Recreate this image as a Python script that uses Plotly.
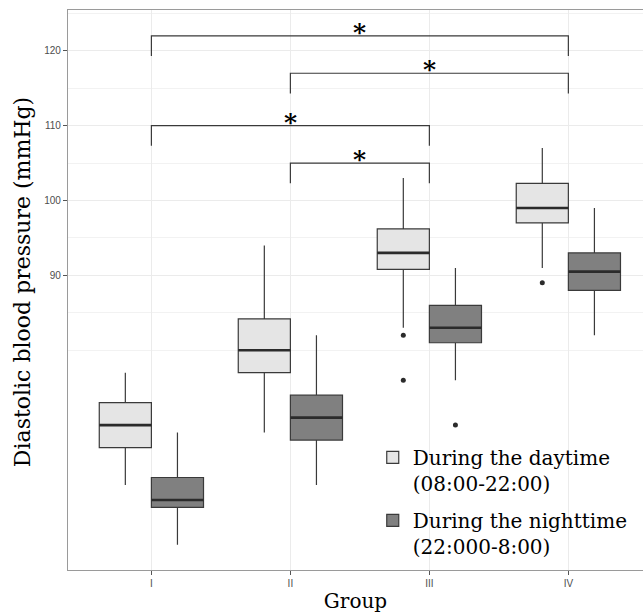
import plotly.graph_objects as go

# Groups on the x axis
groups = ["I", "II", "III", "IV"]
group_pos = [1, 2, 3, 4]

# Daytime (08:00-22:00) box statistics, mmHg
day_low = [62, 69, 83, 91]
day_q1 = [67, 77, 90.8, 97]
day_med = [70, 80, 93, 99]
day_q3 = [73, 84.2, 96.2, 102.3]
day_high = [77, 94, 103, 107]
day_out_group = [3, 3, 4]
day_out_val = [82, 76, 89]

# Nighttime (22:00-08:00) box statistics, mmHg
night_low = [54, 62, 76, 82]
night_q1 = [59, 68, 81, 88]
night_med = [60, 71, 83, 90.5]
night_q3 = [63, 74, 86, 93]
night_high = [69, 82, 91, 99]
night_out_group = [3]
night_out_val = [70]

# Significance brackets: (from group, to group, height)
brackets = [(1, 4, 122), (2, 4, 117), (1, 3, 110), (2, 3, 105)]
bracket_tip = 2.7
bracket_label = "*"

DODGE = 0.1875
BOX_W = 0.375
LINE_C = "#3a3a3a"
SERIF = "DejaVu Serif"

fig = go.Figure()


def add_series(name, offset, low, q1, med, q3, high, fill, out_g, out_v):
    xs = [p + offset for p in group_pos]
    fig.add_trace(go.Box(
        name=name, x=xs, q1=q1, median=med, q3=q3,
        lowerfence=low, upperfence=high, width=BOX_W,
        fillcolor=fill, line=dict(color=LINE_C, width=1.2),
        whiskerwidth=0, boxpoints=False, hoverinfo="skip",
        legendgroup=name,
    ))
    # thicker median bars
    mx, my = [], []
    for x, m in zip(xs, med):
        mx += [x - BOX_W / 2, x + BOX_W / 2, None]
        my += [m, m, None]
    fig.add_trace(go.Scatter(x=mx, y=my, mode="lines",
                             line=dict(color="#2b2b2b", width=2.6),
                             showlegend=False, hoverinfo="skip"))
    # outliers
    fig.add_trace(go.Scatter(x=[g + offset for g in out_g], y=out_v, mode="markers",
                             marker=dict(color="#2b2b2b", size=5),
                             showlegend=False, hoverinfo="skip"))


add_series("During the daytime<br>(08:00-22:00)", -DODGE, day_low, day_q1, day_med,
           day_q3, day_high, "#E5E5E5", day_out_group, day_out_val)
add_series("During the nighttime<br>(22:000-8:00)", DODGE, night_low, night_q1, night_med,
           night_q3, night_high, "#808080", night_out_group, night_out_val)

for a, b, h in brackets:
    fig.add_trace(go.Scatter(
        x=[a, a, b, b], y=[h - bracket_tip, h, h, h - bracket_tip], mode="lines",
        line=dict(color=LINE_C, width=1.2), showlegend=False, hoverinfo="skip"))
    fig.add_annotation(x=(a + b) / 2, y=h, text="<b>" + bracket_label + "</b>",
                       showarrow=False, yanchor="bottom", yshift=-13,
                       font=dict(family=SERIF, size=25, color="black"))

# y-axis title
fig.add_annotation(xref="paper", yref="paper", x=-0.08, y=0.514,
                   text="Diastolic blood pressure (mmHg)", textangle=-90,
                   showarrow=False, xanchor="center", yanchor="middle",
                   font=dict(family=SERIF, size=22, color="black"))

fig.update_layout(
    width=643, height=613,
    margin=dict(l=68, r=0, t=10, b=43),
    plot_bgcolor="white", paper_bgcolor="white",
    showlegend=True,
    legend=dict(x=0.53, y=0.236, xanchor="left", yanchor="top",
                font=dict(family=SERIF, size=20, color="black"),
                bgcolor="rgba(0,0,0,0)", valign="top",
                traceorder="grouped", tracegroupgap=8),
    xaxis=dict(
        range=[0.4, 4.537], tickvals=group_pos, ticktext=groups,
        showgrid=True, gridcolor="#EBEBEB", gridwidth=1,
        zeroline=False, showline=True, linecolor="#9a9a9a", linewidth=1.3,
        mirror=True, ticks="outside", ticklen=4, tickcolor="#555",
        tickfont=dict(family="Liberation Sans", size=10, color="#4D4D4D"),
        title=dict(text="Group", font=dict(family=SERIF, size=20, color="black"),
                   standoff=6),
    ),
    yaxis=dict(
        range=[50.64, 125.45], tickvals=[90, 100, 110, 120],
        showgrid=True, gridcolor="#EBEBEB", gridwidth=1,
        minor=dict(tickvals=[80, 85, 95, 105, 115, 125], showgrid=True,
                   gridcolor="#F2F2F2", gridwidth=1, ticks=""),
        zeroline=False, showline=True, linecolor="#9a9a9a", linewidth=1.3,
        ticks="outside", ticklen=4, tickcolor="#555",
        tickfont=dict(family="Liberation Sans", size=10, color="#4D4D4D"),
    ),
)

fig.write_html("out.html")
